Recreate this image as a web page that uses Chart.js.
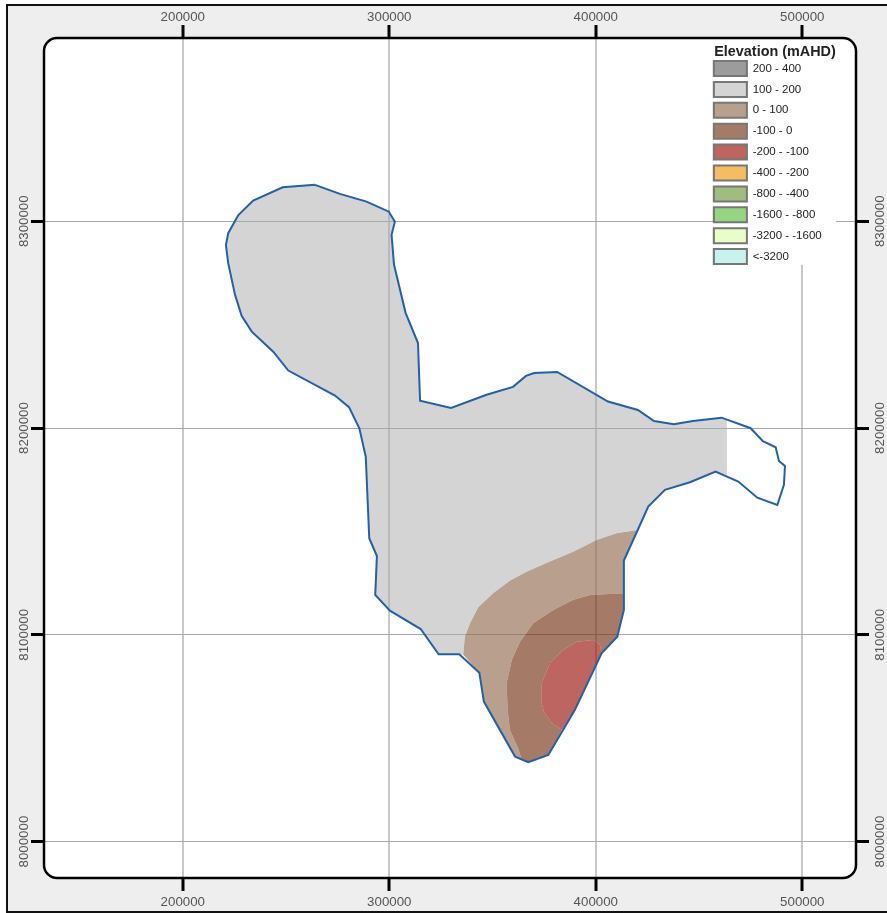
<!DOCTYPE html>
<html>
<head>
<meta charset="utf-8">
<title>Elevation (mAHD)</title>
<script src="https://cdn.jsdelivr.net/npm/chart.js@4"></script>
<style>
  html, body { margin: 0; padding: 0; background: #fff; }
  #page { position: relative; width: 887px; height: 913px; overflow: hidden; filter: blur(.4px); }
  #frame { position: absolute; left: 6px; top: 4px; width: 890px; height: 905px; background: #eeeeee; border: 2px solid #111; }
  #wrap { position: absolute; left: 0; top: 0; width: 887px; height: 913px; }
</style>
</head>
<body>
<div id="page">
  <div id="frame"></div>
  <div id="wrap"><canvas id="map"></canvas></div>
</div>
<script>
// axis ticks (map grid, metres)
const xTicks = [200000, 300000, 400000, 500000];
const yTicks = [8000000, 8100000, 8200000, 8300000];

// legend classes, top to bottom
const classNames = ['200 - 400', '100 - 200', '0 - 100', '-100 - 0', '-200 - -100',
  '-400 - -200', '-800 - -400', '-1600 - -800', '-3200 - -1600', '<-3200'];
const classColors = ['rgba(103,103,103,.65)', 'rgba(169,169,169,.5)', 'rgba(146,107,81,.65)',
  'rgba(116,52,21,.65)', 'rgba(152,18,12,.65)', 'rgba(240,153,13,.65)', 'rgba(109,153,58,.65)',
  'rgba(90,190,64,.65)', 'rgba(220,252,172,.65)', 'rgba(169,235,229,.65)'];

// basin outline, pieces as [easting, northing]
const northEdge = [[264000,8317600],[276100,8313200],[289000,8309500],[299800,8304600],[302700,8299800],
  [301100,8293400],[302300,8278900],[307900,8255700],[313900,8241100],[314900,8213200],[329900,8209700],
  [347100,8216100],[359900,8219900],[366200,8225200],[370100,8226600],[381300,8227100],[405900,8212800],
  [420400,8208700],[428200,8203400],[437800,8201800],[447000,8203400],[460900,8205000]];
const eastTail = [[475000,8199900],[480900,8193600],[487100,8190700],[488700,8184100],[491600,8181700],
  [491100,8172500],[487900,8162800],[478200,8166300],[469000,8174100]];
const southEastEdge = [[458000,8178900],[445600,8173800],[433500,8170100],[425400,8162000],[420300,8150700]];
const eastFlank = [[413600,8135900]];
const eastFlankLow = [[413600,8112000],[410400,8099100],[402800,8091100]];
const redEdge = [[389900,8063700]];
const southTip = [[377000,8041900],[367300,8038400]];
const tipWest = [[360900,8041100],[345800,8067700],[343600,8081700]];
const westEdge = [[333900,8090600],[323900,8090600],[315200,8102800],[300300,8111700],[293200,8119300],
  [294000,8138100],[290300,8146700],[288600,8186200],[285500,8199900],[280500,8210100],[273700,8215700],
  [251100,8227800],[243800,8236900],[233400,8246600],[228500,8254300],[225300,8264400],[222000,8279700],
  [220900,8288500],[222000,8294200],[226900,8303000],[234100,8310000],[248400,8316400]];

// raster stops here, the tail of the basin has no grid
const rasterCut = [[463500,8204100],[463500,8177300]];

// class boundaries inside the basin
const contour0 = [[410100,8149100],[400400,8145900],[389100,8140200],[377800,8135400],[366500,8130500],
  [358400,8126200],[350300,8120100],[343100,8113300],[339100,8105600],[336600,8099100],[335800,8090300]];
const contourMinus100 = [[364200,8039500],[362400,8045100],[358400,8054000],[357300,8063700],[356800,8076600],
  [359300,8087800],[363300,8096700],[369700,8105600],[379400,8112000],[389100,8116900],[397200,8119300],[413600,8120100]];
const contourMinus200 = [[383600,8054000],[378600,8057400],[374900,8062700],[373800,8066900],[373800,8076600],[377800,8086200],
  [384200,8092700],[390700,8096700],[398800,8097500],[402000,8095100]];

const boundary = [...northEdge, ...eastTail, ...southEastEdge, ...eastFlank, ...eastFlankLow, ...redEdge,
  ...southTip, ...tipWest, ...westEdge, northEdge[0]];
const region100 = [...northEdge, ...rasterCut, ...southEastEdge, ...contour0, ...westEdge];
const region0 = [[420300,8150700], ...contour0, ...tipWest.slice().reverse(), ...contourMinus100, ...eastFlank];
const regionMinus100 = [...contourMinus100, ...eastFlankLow, ...contourMinus200.slice().reverse(), ...southTip];
const regionMinus200 = [...contourMinus200, eastFlankLow[2], ...redEdge];

// one list per class, classes with no area in this basin stay empty
const classRegions = [[], region100, region0, regionMinus100, regionMinus200, [], [], [], [], []];

const toPoints = (list) => list.map(([x, y]) => ({ x, y }));
const FONT = '"Liberation Sans", Arial, sans-serif';

const datasets = classNames.map((name, i) => ({
  label: name,
  data: toPoints(classRegions[i]),
  showLine: true,
  fill: 'shape',
  backgroundColor: classColors[i],
  borderWidth: 0,
  pointRadius: 0,
  tension: 0
}));
datasets.push({
  label: 'Boundary',
  data: toPoints(boundary),
  showLine: true,
  fill: false,
  borderColor: '#2460a7',
  borderWidth: 2,
  pointRadius: 0,
  tension: 0,
  order: -1
});

// shared look of the four axes, sizes are fixed so the frame sits where it should
function axis(position, ticks, size, gridOn, gridColor, gridWidth, labelPad) {
  const vertical = position === 'left' || position === 'right';
  return {
    type: 'linear',
    position,
    border: { display: false },
    grid: {
      drawOnChartArea: gridOn,
      color: gridColor,
      lineWidth: gridWidth,
      tickColor: '#000',
      tickWidth: 3,
      tickLength: 13
    },
    ticks: {
      autoSkip: false,
      color: '#555',
      font: { family: FONT, size: 13.3 },
      padding: labelPad,
      minRotation: vertical ? 90 : 0,
      maxRotation: vertical ? 90 : 0,
      crossAlign: vertical ? 'center' : 'near',
      callback: (v) => String(v)
    },
    afterBuildTicks: (scale) => { scale.ticks = ticks.map((value) => ({ value })); },
    afterFit: (scale) => {
      if (vertical) scale.width = size; else scale.height = size;
    }
  };
}

const xRange = { min: 132800, max: 526000 };
const yRange = { min: 7982400, max: 8388600 };

const framePlugin = {
  id: 'frame',
  afterLayout(chart) {
    // legend sits inside the map, top right
    const l = chart.legend;
    l.left = 708; l.right = 842; l.top = 42; l.bottom = 280;
    l.width = 134; l.height = 238;
  },
  beforeDraw(chart) {
    const { ctx, chartArea: a } = chart;
    ctx.save();
    ctx.beginPath();
    ctx.roundRect(a.left, a.top, a.width, a.height, 13);
    ctx.fillStyle = '#fff';
    ctx.fill();
    ctx.restore();
  },
  afterDatasetsDraw(chart) {
    const ctx = chart.ctx;
    ctx.save();
    ctx.fillStyle = '#fff';
    ctx.fillRect(713, 40, 123, 225);
    ctx.restore();
    chart.legend.draw();
  },
  afterDraw(chart) {
    const { ctx, chartArea: a } = chart;
    ctx.save();
    ctx.beginPath();
    ctx.roundRect(a.left, a.top, a.width, a.height, 13);
    ctx.strokeStyle = '#000';
    ctx.lineWidth = 2.5;
    ctx.stroke();
    ctx.restore();
  }
};

new Chart(document.getElementById('map'), {
  type: 'scatter',
  data: { datasets },
  plugins: [framePlugin],
  options: {
    responsive: true,
    maintainAspectRatio: false,
    animation: false,
    events: [],
    layout: { padding: 0 },
    scales: {
      x: { ...axis('bottom', xTicks, 35, true, '#c8c8c8', 2, 3), ...xRange },
      xTop: { ...axis('top', xTicks, 38, false, '#c8c8c8', 2, -0.5), ...xRange },
      y: { ...axis('left', yTicks, 44, true, '#a8a8a8', 1, -19), ...yRange },
      yRight: { ...axis('right', yTicks, 31, false, '#a8a8a8', 1, -15), ...yRange }
    },
    plugins: {
      tooltip: { enabled: false },
      legend: {
        position: 'chartArea',
        align: 'start',
        title: {
          display: true,
          text: 'Elevation (mAHD)',
          color: '#222',
          font: { family: FONT, size: 14.4, weight: 'bold' },
          padding: { top: 3, bottom: -7.2 }
        },
        labels: {
          boxWidth: 33,
          boxHeight: 15,
          padding: 5.9,
          color: '#555',
          font: { family: FONT, size: 11.5 },
          generateLabels: (chart) => classNames.map((text, i) => ({
            text,
            fillStyle: classColors[i],
            strokeStyle: '#777',
            lineWidth: 2,
            datasetIndex: i
          }))
        }
      }
    }
  }
});
</script>
</body>
</html>
